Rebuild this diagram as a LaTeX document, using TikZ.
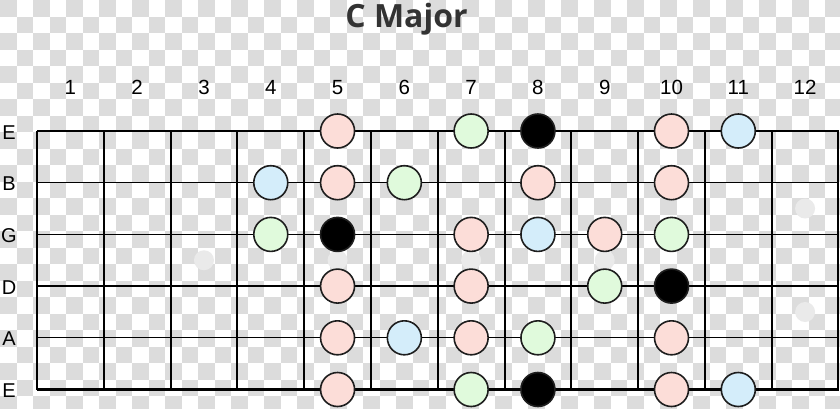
\documentclass[tikz,border=0pt]{standalone}
\usepackage{fontspec}
\setmainfont{Liberation Sans}
\newfontfamily\titlefont{Open Sans}
\definecolor{checkgray}{RGB}{220,220,220}
\definecolor{markergray}{RGB}{234,234,234}
\definecolor{notepink}{RGB}{252,221,216}
\definecolor{notegreen}{RGB}{224,250,220}
\definecolor{noteblue}{RGB}{212,237,250}
\definecolor{noteedge}{RGB}{30,30,30}
\definecolor{titlegray}{RGB}{51,51,51}
\tikzset{
  fretline/.style={line width=2pt, black},
  stringline/.style={line width=1.3pt, black},
  framelines/.style={line width=2.1pt, black},
  note/.style={circle, draw=noteedge, line width=1.6pt, minimum size=34pt, inner sep=0pt},
  pk/.style={note, fill=notepink},
  gr/.style={note, fill=notegreen},
  bl/.style={note, fill=noteblue},
  rt/.style={note, fill=black},
  marker/.style={circle, fill=markergray, minimum size=20pt, inner sep=0pt},
  fretnum/.style={font=\fontsize{20.5}{22}\selectfont, anchor=base, inner sep=0pt},
  strlabel/.style={font=\fontsize{20}{22}\selectfont, anchor=base, inner sep=0pt},
  titletext/.style={font=\titlefont\bfseries\fontsize{32}{34}\selectfont, text=titlegray, anchor=base, inner sep=0pt}
}
\begin{document}
\begin{tikzpicture}[x=1pt,y=-1pt]
\useasboundingbox (0,0) rectangle (840,408);
\fill[white] (0,0) rectangle (840,408);
\begin{scope}
\clip (0,0) rectangle (840,408);
\foreach \i in {0,...,50}{
  \foreach \j in {0,...,24}{
    \pgfmathtruncatemacro\cpar{mod(\i+\j,2)}
    \ifnum\cpar=0
      \fill[checkgray] (\i*16.5,\j*16.5) rectangle ++(16.5,16.5);
    \fi
  }
}
\end{scope}
% geometry
\def\fx{66.79}
% fret markers
\foreach \f/\yy [count=\k] in {3/260.25,5/260.25,7/260.25,9/260.25,12/208.5,12/312}{
  \node[marker] (m\k) at ({37+\fx*(\f-0.5)},\yy) {};
}
% strings
\foreach \s/\yy in {1/182.7,2/234.4,3/286.1,4/337.8}{
  \draw[stringline] (37,\yy) -- (838.5,\yy);
}
\draw[framelines] (37,131) -- (838.5,131);
\draw[framelines] (37,389.5) -- (838.5,389.5);
% frets
\foreach \k in {0,...,12}{
  \draw[fretline] ({37+\fx*\k},131) -- ({37+\fx*\k},389.5);
}
% title
\node[titletext] (title) at (406.5,27) {C Major};
% fret numbers
\foreach \k in {1,...,12}{
  \node[fretnum] (n\k) at ({37+\fx*(\k-0.5)},94.3) {\k};
}
% string labels
\foreach \l/\yy [count=\k] in {E/131,B/182.7,G/234.4,D/286.1,A/337.8,E/389.5}{
  \node[strlabel] (s\k) at (9,\yy+8) {\l};
}
% notes: style/fret/string-y
\foreach \st/\f/\yy [count=\k] in {
  pk/5/131, gr/7/131, rt/8/131, pk/10/131, bl/11/131,
  bl/4/182.7, pk/5/182.7, gr/6/182.7, pk/8/182.7, pk/10/182.7,
  gr/4/234.4, rt/5/234.4, pk/7/234.4, bl/8/234.4, pk/9/234.4, gr/10/234.4,
  pk/5/286.1, pk/7/286.1, gr/9/286.1, rt/10/286.1,
  pk/5/337.8, bl/6/337.8, pk/7/337.8, gr/8/337.8, pk/10/337.8,
  pk/5/389.5, gr/7/389.5, rt/8/389.5, pk/10/389.5, bl/11/389.5}{
  \node[\st] (note\k) at ({37+\fx*(\f-0.5)},\yy) {};
}
\end{tikzpicture}
\end{document}
